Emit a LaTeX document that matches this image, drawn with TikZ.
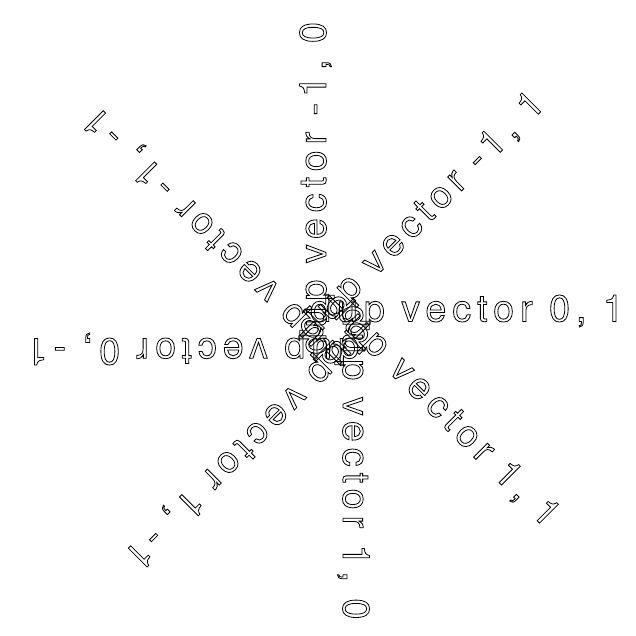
\documentclass[tikz,border=0pt]{standalone}
\usepackage{fontspec}
\newfontfamily\hvout[LetterSpace=16.16]{TeX Gyre Heros}
\newcommand\outl[1]{\spaceskip=16.5pt\relax\special{pdf:literal direct 1 Tr 0.8 w}#1\special{pdf:literal direct 0 Tr}}
\begin{document}
\begin{tikzpicture}[x=1pt,y=1pt]
\useasboundingbox (0,0) rectangle (636,-635);
\tikzset{lbl/.style={font=\hvout\fontsize{37.5}{40}\selectfont, anchor=base west, inner sep=0pt, transform shape}}
\coordinate (c) at (334.5,-330);
\foreach \a/\t/\n in {0/{dup vector 0, 1}/e, 45/{dup vector -1, 1}/ne, 90/{dup vector -1, 0}/n, 135/{dup vector -1, -1}/nw, 180/{dup vector 0, -1}/w, 225/{dup vector 1, -1}/sw, 270/{dup vector 1, 0}/s, 315/{dup vector 1, 1}/se}{
  \begin{scope}[shift={(c)}, rotate=\a]
    \node[lbl] (t\n) at (-24.5,8.5) {\outl{\t}};
  \end{scope}
}
\end{tikzpicture}
\end{document}
